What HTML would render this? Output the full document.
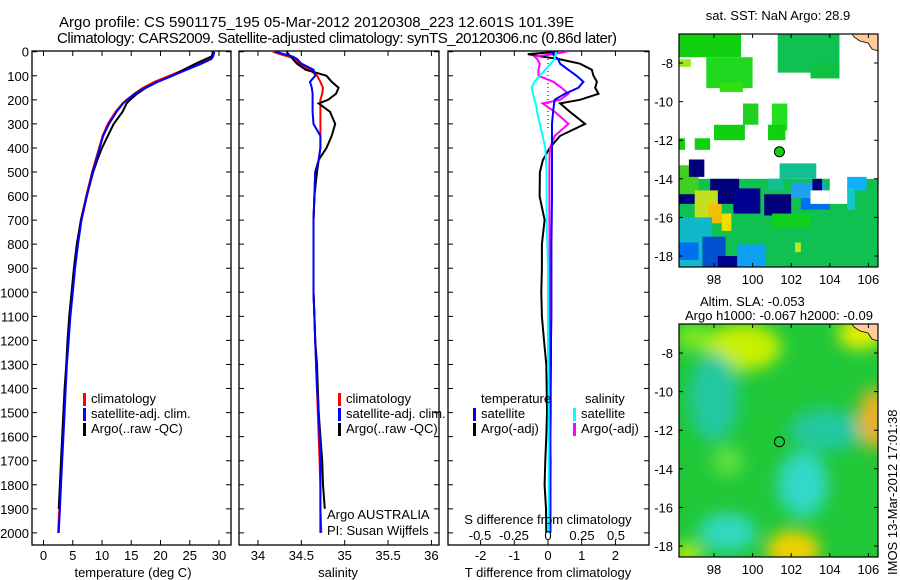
<!DOCTYPE html>
<html><head><meta charset="utf-8"><style>
body{margin:0;background:#fff;}
svg{display:block;font-family:"Liberation Sans",sans-serif;}
</style></head><body>
<svg id="s" width="900" height="580" viewBox="0 0 900 580">
<defs><filter id="bl" x="-50%" y="-50%" width="200%" height="200%"><feGaussianBlur stdDeviation="8"/></filter>
<clipPath id="c2"><rect x="679" y="324" width="199" height="233"/></clipPath></defs>
<text x="59" y="27" font-size="15">Argo profile: CS 5901175_195 05-Mar-2012 20120308_223 12.601S 101.39E</text>
<text x="57" y="43" font-size="15" textLength="560">Climatology: CARS2009. Satellite-adjusted climatology: synTS_20120306.nc (0.86d later)</text>
</svg>
<script>
const depth=[0,10,20,30,50,75,100,125,150,175,200,215,250,300,350,400,450,500,600,700,800,900,1000,1100,1200,1300,1400,1500,1600,1700,1800,1900,2000];
const tClim=[29,29,28.9,28.5,26.5,24,21.5,19,17,15.5,14.2,13.5,12.3,11,10.1,9.5,8.9,8.3,7.3,6.4,5.8,5.3,4.9,4.5,4.2,3.9,3.7,3.5,3.3,3.1,2.9,2.7,2.5];
const tSat=[29.2,29.1,29,28.7,27,24.5,22,19.5,17.4,15.6,14.3,13.6,12.5,11.2,10.2,9.6,9,8.4,7.4,6.5,5.9,5.4,5,4.6,4.3,4,3.8,3.6,3.4,3.2,3,2.8,2.6];
const tArgo=[28.9,28.9,28.7,27.8,26,24,22,19.5,17.5,16,14.8,14.2,13.5,12,11,10,9.2,8.5,7.4,6.4,5.7,5.2,4.8,4.4,4.1,3.9,3.6,3.4,3.2,3,2.8,2.6,2.6];
const sClim=[34.17,34.25,34.35,34.42,34.48,34.6,34.68,34.72,34.75,34.74,34.72,34.72,34.72,34.72,34.72,34.72,34.7,34.66,34.65,34.64,34.64,34.64,34.64,34.65,34.66,34.67,34.68,34.69,34.7,34.71,34.72,34.72,34.73];
const sSat=[34.2,34.3,34.4,34.45,34.5,34.64,34.66,34.6,34.62,34.63,34.63,34.63,34.63,34.64,34.72,34.72,34.7,34.66,34.65,34.64,34.64,34.64,34.64,34.65,34.66,34.67,34.68,34.7,34.71,34.72,34.72,34.72,34.72];
const sArgo=[34.33,34.35,34.38,34.4,34.45,34.55,34.79,34.85,34.93,34.9,34.81,34.7,34.83,34.89,34.85,34.79,34.7,34.68,34.65,34.64,34.64,34.64,34.64,34.65,34.66,34.68,34.69,34.7,34.72,34.74,34.75,34.77,34.77];
const dTSat=[0.1,0.15,0.2,0.3,0.36,0.6,0.85,1.05,0.9,0.5,0.2,0.18,0.15,0.12,0.12,0.12,0.12,0.12,0.12,0.11,0.1,0.1,0.1,0.1,0.09,0.09,0.08,0.08,0.07,0.07,0.06,0.06,0.06];
const dTArgo=[0.3,-0.6,-0.2,0.3,0.95,1.3,1.35,1.45,1.4,1.5,0.95,0.36,0.65,1.1,0.36,0.05,-0.15,-0.24,-0.25,-0.1,-0.18,-0.18,-0.2,-0.18,-0.12,-0.05,-0.04,-0.03,-0.05,-0.08,-0.1,-0.06,-0.05];
const dSSat=[0.06,0.06,0.05,0.05,0.02,-0.02,-0.06,-0.1,-0.12,-0.11,-0.1,-0.09,-0.08,-0.06,-0.04,-0.02,-0.015,-0.01,-0.01,-0.01,-0.005,0,0,0,0,0,0.005,0.005,0.005,0.005,0.005,0.005,0.005];
const dSArgo=[0.14,0.04,-0.1,-0.08,-0.06,-0.07,-0.07,0.04,0.1,0.15,0.09,-0.04,0.05,0.15,0.05,0.015,0.01,0.01,0.01,0.01,0.012,0.012,0.012,0.012,0.012,0.015,0.015,0.015,0.015,0.02,0.02,0.02,0.02];
const yTicks=[0,100,200,300,400,500,600,700,800,900,1000,1100,1200,1300,1400,1500,1600,1700,1800,1900,2000];
const tTicks=[0,5,10,15,20,25,30];
const sTicks=[34,34.5,35,35.5,36];
const dTTicks=[-2,-1,0,1,2];
const dSTicks=[-0.5,-0.25,0,0.25,0.5];
const latTicks=[-8,-10,-12,-14,-16,-18];
const lonTicks=[98,100,102,104,106];

const S=document.getElementById('s');
const NS='http://www.w3.org/2000/svg';
function mk(tag,a,txt){const e=document.createElementNS(NS,tag);for(const k in a)e.setAttribute(k,a[k]);if(txt!==undefined)e.textContent=txt;S.appendChild(e);return e;}
const yD=d=>51.7+d*0.2406;
const xT=t=>43.5+t*5.85;
const xS=s=>258+(s-34)*86.7;
const xDT=t=>548+t*33.7;
const xDS=s=>548+s*136;
const PT=51,PB=545;
function frame(x0,x1,name){
  const r=mk('rect',{x:x0,y:PT,width:x1-x0,height:PB-PT,fill:'none',stroke:'#000','stroke-width':1.3});
  
  
  for(const d of yTicks){
    const y=yD(d);
    const t=mk('path',{d:`M${x0} ${y}h5M${x1} ${y}h-5`,stroke:'#000','stroke-width':1});
    
    
  }
}
function xt(x,lab,name){
  const t=mk('path',{d:`M${x} ${PB}v-5M${x} ${PT}v5`,stroke:'#000','stroke-width':1});
  
  
  const l=mk('text',{x:x,y:560,'font-size':13,'text-anchor':'middle'},lab);
  
  
}
function line(xf,vals,col,name,w,n){
  n=n||vals.length;
  const pts=[];for(let i=0;i<n;i++)pts.push(xf(vals[i]).toFixed(1)+','+yD(depth[i]).toFixed(1));
  const p=mk('polyline',{points:pts.join(' '),fill:'none',stroke:col,'stroke-width':w||2});
  
  
}
function txt(x,y,s,name,fs,anchor){
  const t=mk('text',{x:x,y:y,'font-size':fs||13,'text-anchor':anchor||'start'},s);
  
  
  return t;
}
function bar(x,y,col,name){
  const r=mk('rect',{x:x,y:y-11,width:3,height:13,fill:col});
  
  
}
frame(32,231,'temperature-panel');
for(const d of yTicks)txt(29,yD(d)+5,String(d),'depth-tick-label',13,'end');
for(const t of tTicks)xt(xT(t),String(t),'temperature-tick-label');
line(xT,tClim,'#f00','temperature-climatology-line');
line(xT,tArgo,'#000','temperature-argo-line',2,32);
line(xT,tSat,'#00f','temperature-satellite-line');
txt(133,577,'temperature (deg C)','temperature-axis-title',13,'middle');
bar(83,404,'#f00','legend-climatology-swatch');txt(91,403,'climatology','legend-climatology');
bar(83,419,'#00f','legend-satellite-swatch');txt(91,418,'satellite-adj. clim.','legend-satellite-adj');
bar(83,434,'#000','legend-argo-swatch');txt(91,433,'Argo(..raw -QC)','legend-argo');
frame(239,439,'salinity-panel');
for(const s of sTicks)xt(xS(s),String(s),'salinity-tick-label');
line(xS,sClim,'#f00','salinity-climatology-line');
line(xS,sArgo,'#000','salinity-argo-line',2,32);
line(xS,sSat,'#00f','salinity-satellite-line');
txt(338,577,'salinity','salinity-axis-title',13,'middle');
bar(338,404,'#f00','legend2-climatology-swatch');txt(346,403,'climatology','legend2-climatology');
bar(338,419,'#00f','legend2-satellite-swatch');txt(346,418,'satellite-adj. clim.','legend2-satellite-adj');
bar(338,434,'#000','legend2-argo-swatch');txt(346,433,'Argo(..raw -QC)','legend2-argo');
txt(327,519,'Argo AUSTRALIA','argo-australia-label');
txt(327,535,'PI: Susan Wijffels','pi-label');
frame(448,649,'difference-panel');
for(const t of dTTicks)xt(xDT(t),String(t),'t-difference-tick-label');
const dl=mk('line',{x1:548,y1:PT,x2:548,y2:yD(320),stroke:'#000','stroke-dasharray':'1,3','stroke-width':1});


line(xDT,dTArgo,'#000','t-argo-difference-line',2);
line(xDS,dSArgo,'#f0f','s-argo-difference-line',2);
line(xDT,dTSat,'#00f','t-satellite-difference-line',2);
line(xDS,dSSat,'#0ff','s-satellite-difference-line',2);
txt(548,577,'T difference from climatology','t-difference-axis-title',13,'middle');
txt(548,524,'S difference from climatology','s-difference-axis-title',13,'middle');
for(const s of dSTicks)txt(xDS(s),540,String(s),'s-difference-tick-label',13,'middle');
txt(481,403,'temperature','legend3-temperature-header');
txt(585,403,'salinity','legend3-salinity-header');
bar(473,419,'#00f','legend3-t-satellite-swatch');txt(481,418,'satellite','legend3-t-satellite');
bar(473,434,'#000','legend3-t-argo-swatch');txt(481,433,'Argo(-adj)','legend3-t-argo');
bar(573,419,'#0ff','legend3-s-satellite-swatch');txt(581,418,'satellite','legend3-s-satellite');
bar(573,434,'#f0f','legend3-s-argo-swatch');txt(581,433,'Argo(-adj)','legend3-s-argo');

const lonX=l=>714+(l-98)*19.3;
const latY=(la,top)=>top+29+(-8-la)*19.3;
function mapFrame(top,name){
  const r=mk('rect',{x:679,y:top,width:199,height:233,fill:'none',stroke:'#000','stroke-width':1.2});
  
  
  for(const la of latTicks){const y=latY(la,top);
    const t=mk('path',{d:`M679 ${y}h4M878 ${y}h-4`,stroke:'#000'});
    
    
    txt(673,y+5,String(la),'lat-tick-label',13,'end');}
  for(const lo of lonTicks){const x=lonX(lo);
    const t=mk('path',{d:`M${x} ${top}v4M${x} ${top+233}v-4`,stroke:'#000'});
    
    
    txt(x,top+250,String(lo),'lon-tick-label',13,'middle');}
}
const sstCells=[
[96.2,-6.5,3.2,-7.7,'#10d010'],[97.6,-7.7,2.4,-9.3,'#20d820'],[96.2,-7.8,0.6,-8.2,'#a0e820'],[98.3,-9.0,1.2,-9.5,'#30e010'],
[101.3,-6.5,3.2,-8.5,'#10c050'],[103.0,-8.0,1.5,-8.8,'#10c040'],
[99.5,-10.1,0.8,-11.2,'#20d020'],[101.0,-10.1,0.8,-11.5,'#20e020'],[98.0,-11.2,1.6,-12.0,'#10d010'],[100.8,-11.2,0.9,-12.0,'#10d010'],
[96.2,-11.9,0.3,-12.5,'#10d010'],[97.0,-11.9,0.8,-12.5,'#10d010'],
[96.2,-14.0,10.3,-18.6,'#10c050'],[96.2,-13.3,1.0,-14.8,'#40d020'],[96.7,-13.0,0.8,-13.9,'#00007a'],
[96.2,-14.8,1.2,-15.3,'#00007a'],[97.8,-14.0,1.5,-15.3,'#00007a'],[99.0,-14.5,1.4,-15.8,'#000090'],[100.6,-14.8,1.4,-15.9,'#00007a'],
[97.0,-14.6,1.2,-16.3,'#c0e020'],[97.7,-15.3,0.7,-16.3,'#f0c000'],[98.4,-15.8,0.5,-16.7,'#f0e000'],
[96.2,-16.0,1.7,-18.6,'#10b8c8'],[96.2,-17.3,1.0,-18.2,'#0070f0'],[97.4,-17.0,1.2,-18.6,'#0050d0'],[98.2,-18.0,1.2,-18.6,'#000090'],[99.2,-17.4,1.5,-18.6,'#10a0f0'],
[102.0,-14.2,1.8,-15.0,'#20a0f0'],[102.5,-15.0,1.5,-15.6,'#0070f0'],[103.1,-14.0,0.5,-14.7,'#00007a'],
[104.0,-13.9,1.0,-15.3,'#ffffff'],[103.0,-14.6,1.0,-15.3,'#ffffff'],[104.9,-13.9,1.0,-14.6,'#10b0f8'],
[101.4,-13.2,1.9,-14.0,'#10c090'],[100.8,-14.0,0.8,-14.6,'#10c090'],[104.9,-14.5,0.4,-15.6,'#10c8d0'],[101.0,-15.8,2.0,-16.5,'#10d020'],[102.2,-17.3,0.3,-17.8,'#c0e820']
];
const sst=mk('g',{});


for(const c of sstCells){
  const x0=lonX(c[0]),y0=latY(c[1],34),x1=lonX(c[0]+c[2]),y1=latY(c[3],34);
  const r=document.createElementNS(NS,'rect');
  r.setAttribute('x',Math.max(679,x0));r.setAttribute('y',Math.max(34,y0));
  r.setAttribute('width',Math.min(878,x1)-Math.max(679,x0));r.setAttribute('height',Math.min(267,y1)-Math.max(34,y0));
  r.setAttribute('fill',c[4]);
  
  
  sst.appendChild(r);
}
const land1=mk('path',{d:'M852 34h26v17l-6-2l-4-6l-8-2l-6-4z',fill:'#ffcc99',stroke:'#000','stroke-width':0.8});


const dot=mk('circle',{cx:lonX(101.39),cy:latY(-12.6,34),r:5,fill:'#10d010',stroke:'#000','stroke-width':1});


mapFrame(34,'sst-map-frame');
txt(778,20,'sat. SST: NaN Argo: 28.9','sst-map-title',13,'middle');

const slaBlobs=[[99.5,-7.7,2.0,1.2,'#c8f000'],[98.0,-10.3,1.3,2.3,'#20c8a0'],[103.8,-12.0,1.9,1.1,'#20c8a0'],[102.6,-14.8,1.3,1.7,'#30d8c8'],
[98.7,-17.3,1.5,1.0,'#30d8c0'],[102.1,-18.2,1.4,1.0,'#f0d000'],[106.3,-11.4,0.8,1.6,'#f0b020'],[105.6,-7.0,1.2,0.8,'#e8f000'],[96.6,-18.4,0.8,0.5,'#c0f000'],[98.7,-13.6,0.8,0.8,'#60e040'],[97.0,-7.2,1.0,0.7,'#80e820']];
const sg=mk('g',{'clip-path':'url(#c2)'});


const bg=document.createElementNS(NS,'rect');
bg.setAttribute('x',679);bg.setAttribute('y',324);bg.setAttribute('width',199);bg.setAttribute('height',233);bg.setAttribute('fill','#20c838');


sg.appendChild(bg);
const bgg=document.createElementNS(NS,'g');bgg.setAttribute('filter','url(#bl)');sg.appendChild(bgg);
for(const b of slaBlobs){
  const e=document.createElementNS(NS,'ellipse');
  e.setAttribute('cx',lonX(b[0]));e.setAttribute('cy',latY(b[1],324));
  e.setAttribute('rx',b[2]*19.3);e.setAttribute('ry',b[3]*19.3);e.setAttribute('fill',b[4]);
  
  
  bgg.appendChild(e);
}
const land2=mk('path',{d:'M852 324h26v17l-6-2l-4-6l-8-2l-6-4z',fill:'#ffcc99',stroke:'#000','stroke-width':0.8});


const ring=mk('circle',{cx:lonX(101.39),cy:latY(-12.6,324),r:5,fill:'none',stroke:'#000','stroke-width':1});


mapFrame(324,'sla-map-frame');
txt(700,306,'Altim. SLA: -0.053','sla-map-title',13,'start');
txt(685,320,'Argo h1000: -0.067 h2000: -0.09','sla-map-subtitle',13,'start');
const im=txt(0,0,'IMOS 13-Mar-2012 17:01:38','imos-timestamp',13,'start');
im.setAttribute('transform','translate(897,575) rotate(-90)');
</script>
</body></html>
